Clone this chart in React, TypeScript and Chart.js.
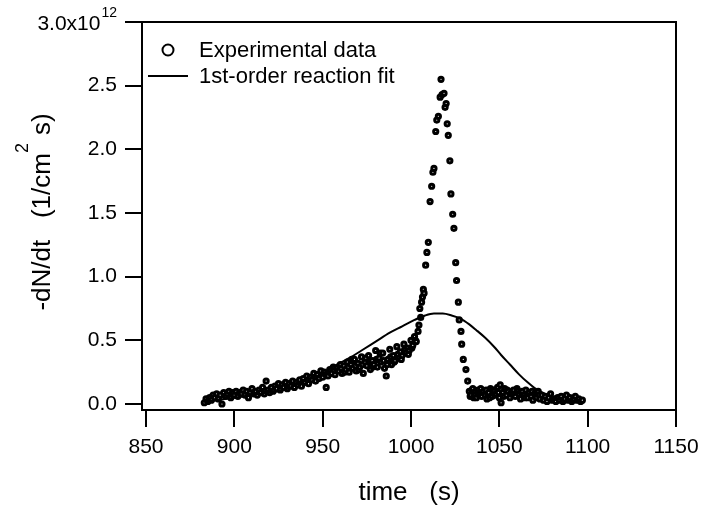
import React, { useEffect, useRef } from "react";
import { Chart, registerables } from "chart.js";
Chart.register(...registerables);

// ---- data (rate values in units of 1e12 1/(cm^2 s)) ----
const timeLow = [
  883, 884, 885, 886, 887, 888, 889, 890, 891, 892,
  893, 894, 895, 896, 897, 898, 899, 900, 901, 902,
  903, 904, 905, 906, 907, 908, 909, 910, 911, 912,
  913, 914, 915, 916, 917, 918, 919, 920, 921, 922,
  923, 924, 925, 926, 927, 928, 929, 930, 931, 932,
  933, 934, 935, 936, 937, 938, 939, 940, 941, 942,
  943, 944, 945, 946, 947, 948, 949, 950, 951, 952,
  953, 954, 955, 956, 957, 958, 959, 960,
];
const rateLow = [
  0.01, 0.04, 0.02, 0.05, 0.03, 0.07, 0.05, 0.08, 0.04, 0.07,
  0.00, 0.09, 0.06, 0.08, 0.10, 0.05, 0.09, 0.07, 0.10, 0.06,
  0.09, 0.08, 0.11, 0.07, 0.10, 0.05, 0.09, 0.12, 0.08, 0.10,
  0.07, 0.11, 0.09, 0.13, 0.08, 0.18, 0.11, 0.09, 0.13, 0.10,
  0.14, 0.12, 0.16, 0.11, 0.15, 0.13, 0.17, 0.12, 0.16, 0.14,
  0.18, 0.13, 0.17, 0.15, 0.19, 0.14, 0.20, 0.17, 0.22, 0.16,
  0.21, 0.19, 0.24, 0.18, 0.23, 0.20, 0.26, 0.21, 0.25, 0.13,
  0.22, 0.27, 0.24, 0.29, 0.23, 0.28, 0.26, 0.31,
];
const timeMid = [
  960.5, 961, 962, 962.5, 963, 964, 964.5, 965, 966, 966.5,
  967, 968, 968.5, 969, 970, 970.5, 971, 972, 972.5, 973,
  974, 974.5, 975, 976, 976.5, 977, 978, 978.5, 979, 980,
  980.5, 981, 982, 982.5, 983, 984, 984.5, 985, 986, 986.5,
  987, 988, 988.5, 989, 990, 990.5, 991, 992, 992.5, 993,
  994, 994.5, 995, 996, 996.5, 997, 998, 998.5, 999, 1000,
  1000.5, 1001, 1002, 1002.5, 1003, 1004,
];
const rateMid = [
  0.28, 0.24, 0.30, 0.25, 0.27, 0.33, 0.29, 0.25, 0.31, 0.35,
  0.28, 0.35, 0.30, 0.26, 0.32, 0.27, 0.29, 0.37, 0.31, 0.24,
  0.33, 0.36, 0.30, 0.38, 0.33, 0.27, 0.34, 0.29, 0.31, 0.42,
  0.35, 0.29, 0.36, 0.40, 0.33, 0.40, 0.34, 0.28, 0.22, 0.31,
  0.35, 0.43, 0.37, 0.31, 0.38, 0.33, 0.34, 0.45, 0.39, 0.36,
  0.41, 0.35, 0.38, 0.47, 0.43, 0.40, 0.44, 0.39, 0.42, 0.50,
  0.44, 0.46, 0.53, 0.50, 0.49, 0.57,
];
const timePeak = [
  1004.5, 1005, 1005.5, 1006, 1006.5, 1007, 1007.4, 1008.3, 1009, 1009.8,
  1010.8, 1011.7, 1012.4, 1013, 1014, 1014.6, 1015.5, 1016.5, 1017, 1017.6,
  1018.7, 1019.3, 1019.9, 1020.5, 1021.1, 1022, 1022.6, 1023.6, 1024.3, 1025.3,
  1025.8, 1026.8, 1027.3, 1028.3, 1028.7, 1029.6, 1031.1, 1032.1,
];
const ratePeak = [
  0.62, 0.75, 0.68, 0.80, 0.84, 0.90, 0.87, 1.09, 1.19, 1.27,
  1.59, 1.71, 1.82, 1.85, 2.14, 2.23, 2.26, 2.41, 2.55, 2.43,
  2.44, 2.33, 2.36, 2.20, 2.11, 1.91, 1.65, 1.49, 1.38, 1.11,
  0.97, 0.80, 0.66, 0.57, 0.47, 0.35, 0.27, 0.18,
];
const timeTail = [
  1033, 1033.5, 1034, 1034.5, 1035, 1035.5, 1036, 1036.5, 1037, 1038,
  1038.5, 1039, 1039.5, 1040, 1040.5, 1041, 1042, 1042.5, 1043, 1043.5,
  1044, 1044.5, 1045, 1046, 1046.5, 1047, 1047.5, 1048, 1049, 1049.5,
  1050, 1050.5, 1051, 1052, 1052.5, 1053, 1054, 1054.5, 1055, 1056,
  1056.5, 1057, 1058, 1058.5, 1059, 1060, 1060.5, 1061, 1062, 1062.5,
  1063, 1064, 1064.5, 1065, 1066, 1066.5, 1067, 1068, 1068.5, 1069,
  1070, 1070.5, 1071, 1072, 1072.5, 1073, 1074, 1075, 1076, 1077,
  1078, 1079, 1080, 1081, 1082, 1083, 1084, 1085, 1086, 1087,
  1088, 1089, 1090, 1091, 1092, 1093, 1094, 1095, 1096, 1097,
];
const rateTail = [
  0.10, 0.06, 0.07, 0.11, 0.12, 0.05, 0.08, 0.10, 0.05, 0.11,
  0.07, 0.09, 0.12, 0.06, 0.09, 0.10, 0.07, 0.11, 0.04, 0.08,
  0.09, 0.05, 0.12, 0.06, 0.11, 0.10, 0.07, 0.08, 0.13, 0.09,
  0.05, 0.15, 0.01, 0.09, 0.06, 0.12, 0.07, 0.11, 0.10, 0.05,
  0.08, 0.09, 0.11, 0.07, 0.06, 0.12, 0.10, 0.08, 0.04, 0.09,
  0.10, 0.07, 0.05, 0.11, 0.05, 0.08, 0.09, 0.06, 0.10, 0.03,
  0.08, 0.06, 0.05, 0.10, 0.07, 0.04, 0.07, 0.03, 0.06, 0.02,
  0.05, 0.08, 0.03, 0.04, 0.02, 0.05, 0.03, 0.06, 0.02, 0.04,
  0.07, 0.03, 0.05, 0.02, 0.04, 0.06, 0.03, 0.04, 0.02, 0.03,
];
const fitTime = [
  883, 890, 900, 910, 920, 930, 940, 950, 958, 965,
  972, 980, 988, 995, 1002, 1008, 1013, 1018, 1023, 1028,
  1033, 1037, 1042, 1047, 1051, 1056, 1061, 1066, 1070, 1075,
  1080, 1085, 1090, 1097,
];
const fitRate = [
  0.02, 0.03, 0.05, 0.07, 0.09, 0.12, 0.18, 0.24, 0.31, 0.36,
  0.42, 0.49, 0.56, 0.61, 0.66, 0.695, 0.71, 0.71, 0.695, 0.67,
  0.625, 0.58, 0.52, 0.45, 0.385, 0.31, 0.235, 0.17, 0.125, 0.085,
  0.05, 0.03, 0.02, 0.01,
];
const xTicks = [850, 900, 950, 1000, 1050, 1100, 1150];
const yTicks = [0, 0.5, 1.0, 1.5, 2.0, 2.5, 3.0];
const yTopMantissa = "3.0x10";
const yTopExponent = "12";
const xTitle = "time   (s)";
const yTitleMain = "-dN/dt   (1/cm";
const yTitleSup = "2";
const yTitleEnd = "s)";
const legendLabels = ["Experimental data", "1st-order reaction fit"];

const FONT = '"Liberation Sans", Arial, Helvetica, sans-serif';

const decorPlugin = {
  id: "decor",
  afterDraw(chart: any) {
    const { ctx, chartArea: a, scales } = chart;
    ctx.save();
    ctx.strokeStyle = "#000";
    ctx.fillStyle = "#000";
    ctx.lineWidth = 2;
    // top and right frame
    ctx.beginPath();
    ctx.moveTo(a.left, a.top);
    ctx.lineTo(a.right, a.top);
    ctx.lineTo(a.right, a.bottom);
    ctx.stroke();

    // top y label with exponent
    const yTop = scales.y.getPixelForValue(3.0);
    ctx.textAlign = "right";
    ctx.textBaseline = "alphabetic";
    ctx.font = `14px ${FONT}`;
    const wExp = ctx.measureText(yTopExponent).width;
    ctx.fillText(yTopExponent, 117, yTop - 5);
    ctx.font = `21px ${FONT}`;
    ctx.fillText(yTopMantissa, 117 - wExp - 1, yTop + 8);

    // x title
    ctx.textAlign = "center";
    ctx.font = `26px ${FONT}`;
    ctx.fillText(xTitle, (a.left + a.right) / 2, 500);

    // y title (rotated, with superscript)
    const mainF = `26px ${FONT}`;
    const supF = `18px ${FONT}`;
    const gapAfterSup = 8;
    ctx.font = mainF;
    const w0 = ctx.measureText(yTitleMain).width;
    const w2 = ctx.measureText(yTitleEnd).width;
    ctx.font = supF;
    const w1 = ctx.measureText(yTitleSup).width;
    const total = w0 + w1 + gapAfterSup + w2;
    ctx.save();
    ctx.translate(50, 212);
    ctx.rotate(-Math.PI / 2);
    ctx.textAlign = "left";
    let x = -total / 2;
    ctx.font = mainF;
    ctx.fillText(yTitleMain, x, 0);
    x += w0;
    ctx.font = supF;
    ctx.fillText(yTitleSup, x, -22);
    x += w1 + gapAfterSup;
    ctx.font = mainF;
    ctx.fillText(yTitleEnd, x, 0);
    ctx.restore();

    // legend
    ctx.font = `22px ${FONT}`;
    ctx.textAlign = "left";
    ctx.textBaseline = "middle";
    ctx.lineWidth = 2;
    ctx.beginPath();
    ctx.arc(168, 50, 5.5, 0, Math.PI * 2);
    ctx.stroke();
    ctx.fillText(legendLabels[0], 199, 51);
    ctx.beginPath();
    ctx.moveTo(148, 76);
    ctx.lineTo(188, 76);
    ctx.stroke();
    ctx.fillText(legendLabels[1], 199, 77);
    ctx.restore();
  },
};

export default function App() {
  const ref = useRef<HTMLCanvasElement | null>(null);
  useEffect(() => {
    if (!ref.current) return;
    const expTime = [...timeLow, ...timeMid, ...timePeak, ...timeTail];
    const expRate = [...rateLow, ...rateMid, ...ratePeak, ...rateTail];
    const chart = new Chart(ref.current, {
      type: "scatter",
      data: {
        datasets: [
          {
            label: legendLabels[1],
            data: fitTime.map((t, i) => ({ x: t, y: fitRate[i] })),
            showLine: true,
            borderColor: "#000",
            borderWidth: 2,
            pointRadius: 0,
            cubicInterpolationMode: "monotone",
            order: 0,
          } as any,
          {
            label: legendLabels[0],
            data: expTime.map((t, i) => ({ x: t, y: expRate[i] })),
            showLine: false,
            borderColor: "#000",
            backgroundColor: "#fff",
            borderWidth: 3,
            pointRadius: 2.1,
            order: 1,
          },
        ],
      },
      options: {
        animation: false,
        responsive: true,
        maintainAspectRatio: false,
        layout: { padding: { left: 0, right: 25, top: 22, bottom: 0 } },
        plugins: { legend: { display: false }, tooltip: { enabled: false } },
        scales: {
          x: {
            type: "linear",
            min: 847.74,
            max: 1150,
            afterBuildTicks: (s: any) => {
              s.ticks = xTicks.map((v) => ({ value: v }));
            },
            afterFit: (s: any) => {
              s.height = 102;
              s.paddingLeft = 0;
              s.paddingRight = 0;
            },
            grid: {
              drawOnChartArea: false,
              drawTicks: true,
              tickLength: 17,
              tickWidth: 2,
              tickColor: "#000",
              color: "#000",
              lineWidth: 2,
            },
            border: { display: true, color: "#000", width: 2 },
            ticks: {
              color: "#000",
              font: { family: FONT, size: 21 },
              padding: 8,
              maxRotation: 0,
              autoSkip: false,
              callback: (v: any) => String(v),
            },
          },
          y: {
            type: "linear",
            min: -0.0471,
            max: 3.0,
            afterBuildTicks: (s: any) => {
              s.ticks = yTicks.map((v) => ({ value: v }));
            },
            afterFit: (s: any) => {
              s.width = 142;
              s.paddingTop = 0;
              s.paddingBottom = 0;
            },
            grid: {
              drawOnChartArea: false,
              drawTicks: true,
              tickLength: 17,
              tickWidth: 2,
              tickColor: "#000",
              color: "#000",
              lineWidth: 2,
            },
            border: { display: true, color: "#000", width: 2 },
            ticks: {
              color: "#000",
              font: { family: FONT, size: 21 },
              padding: 8,
              autoSkip: false,
              callback: (v: any) => (v === 3 ? "" : Number(v).toFixed(1)),
            },
          },
        },
      },
      plugins: [decorPlugin],
    });
    return () => chart.destroy();
  }, []);
  return (
    <div style={{ position: "fixed", left: 0, top: 0, width: 701, height: 512, background: "#fff" }}>
      <canvas ref={ref} />
    </div>
  );
}
